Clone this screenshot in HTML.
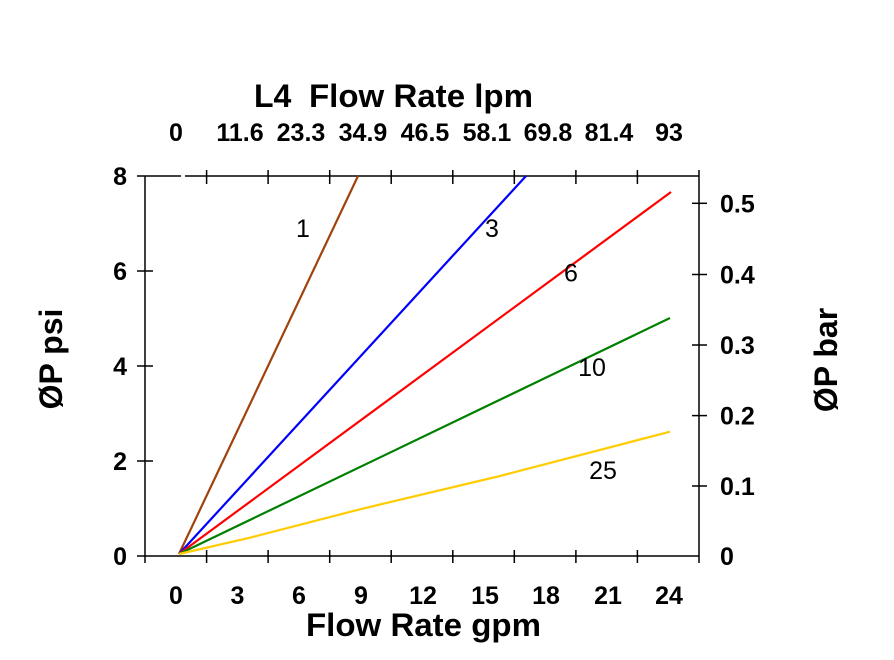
<!DOCTYPE html>
<html><head><meta charset="utf-8"><style>
html,body{margin:0;padding:0;background:#fff;}
svg{display:block;}
text{font-family:"Liberation Sans",Arial,sans-serif;fill:#000;}
</style></head><body>
<svg width="894" height="660" viewBox="0 0 894 660" xmlns="http://www.w3.org/2000/svg">
<rect width="894" height="660" fill="#fff"/>
<!-- axes -->
<g stroke="#000" stroke-width="1.5" fill="none">
<line x1="137" y1="556" x2="699" y2="556"/>
<line x1="137" y1="176" x2="699" y2="176"/>
<line x1="145" y1="176" x2="145" y2="563"/>
<line x1="699" y1="170" x2="699" y2="563"/>
<!-- left ticks -->
<line x1="137" y1="461" x2="153" y2="461"/>
<line x1="137" y1="366" x2="153" y2="366"/>
<line x1="137" y1="271" x2="153" y2="271"/>
<!-- right ticks -->
<line x1="692" y1="486" x2="707" y2="486"/>
<line x1="692" y1="415.6" x2="707" y2="415.6"/>
<line x1="692" y1="345" x2="707" y2="345"/>
<line x1="692" y1="274.5" x2="707" y2="274.5"/>
<line x1="692" y1="203.3" x2="707" y2="203.3"/>
<!-- bottom ticks -->
<line x1="206.6" y1="550" x2="206.6" y2="563"/>
<line x1="268.1" y1="550" x2="268.1" y2="563"/>
<line x1="329.7" y1="550" x2="329.7" y2="563"/>
<line x1="391.2" y1="550" x2="391.2" y2="563"/>
<line x1="452.8" y1="550" x2="452.8" y2="563"/>
<line x1="514.3" y1="550" x2="514.3" y2="563"/>
<line x1="575.9" y1="550" x2="575.9" y2="563"/>
<line x1="637.4" y1="550" x2="637.4" y2="563"/>
<!-- top ticks -->
<line x1="206.6" y1="170" x2="206.6" y2="184"/>
<line x1="268.1" y1="170" x2="268.1" y2="184"/>
<line x1="329.7" y1="170" x2="329.7" y2="184"/>
<line x1="391.2" y1="170" x2="391.2" y2="184"/>
<line x1="452.8" y1="170" x2="452.8" y2="184"/>
<line x1="514.3" y1="170" x2="514.3" y2="184"/>
<line x1="575.9" y1="170" x2="575.9" y2="184"/>
<line x1="637.4" y1="170" x2="637.4" y2="184"/>
</g>
<line x1="181" y1="176" x2="185" y2="176" stroke="#fff" stroke-width="2"/>
<!-- series -->
<g fill="none" stroke-width="2.2" stroke-linejoin="round">
<polyline points="179,554 358,176" stroke="#a0420e"/>
<polyline points="179,554 526,176" stroke="#0000ff"/>
<polyline points="179,554 671,192" stroke="#ff0000"/>
<polyline points="179,554 670,318" stroke="#008000"/>
<polyline points="179,554 250,537.7 360,509.3 500,476 670,431.7" stroke="#ffcc00"/>
</g>
<!-- series labels -->
<g font-size="25" text-anchor="middle">
<text x="303" y="237">1</text>
<text x="492" y="237">3</text>
<text x="571" y="281.5">6</text>
<text x="592" y="376">10</text>
<text x="603" y="479">25</text>
</g>
<!-- left labels -->
<g font-size="25" font-weight="bold" text-anchor="end">
<text x="127" y="565">0</text>
<text x="127" y="470">2</text>
<text x="127" y="375">4</text>
<text x="127" y="280">6</text>
<text x="127" y="185">8</text>
</g>
<!-- right labels -->
<g font-size="25" font-weight="bold" text-anchor="start">
<text x="720" y="565">0</text>
<text x="720" y="495">0.1</text>
<text x="720" y="424.5">0.2</text>
<text x="720" y="354">0.3</text>
<text x="720" y="283.5">0.4</text>
<text x="720" y="212.3">0.5</text>
</g>
<!-- bottom labels -->
<g font-size="25" font-weight="bold" text-anchor="middle">
<text x="176" y="604">0</text>
<text x="237.5" y="604">3</text>
<text x="299" y="604">6</text>
<text x="361" y="604">9</text>
<text x="423" y="604">12</text>
<text x="485" y="604">15</text>
<text x="546" y="604">18</text>
<text x="608" y="604">21</text>
<text x="669" y="604">24</text>
</g>
<!-- top labels -->
<g font-size="25" font-weight="bold" text-anchor="middle">
<text x="176" y="141">0</text>
<text x="240" y="141">11.6</text>
<text x="301" y="141">23.3</text>
<text x="363" y="141">34.9</text>
<text x="425" y="141">46.5</text>
<text x="487" y="141">58.1</text>
<text x="548" y="141">69.8</text>
<text x="609" y="141">81.4</text>
<text x="669" y="141">93</text>
</g>
<!-- titles -->
<text x="254" y="107" font-size="32" font-weight="bold">L4</text>
<text x="309" y="107" font-size="32" font-weight="bold" textLength="224" lengthAdjust="spacingAndGlyphs">Flow Rate lpm</text>
<text x="306" y="636" font-size="32" font-weight="bold" textLength="235" lengthAdjust="spacingAndGlyphs">Flow Rate gpm</text>
<text transform="translate(62,359) rotate(-90)" font-size="32" font-weight="bold" text-anchor="middle">ØP psi</text>
<text transform="translate(837,360) rotate(-90)" font-size="32" font-weight="bold" text-anchor="middle">ØP bar</text>
</svg>
</body></html>
